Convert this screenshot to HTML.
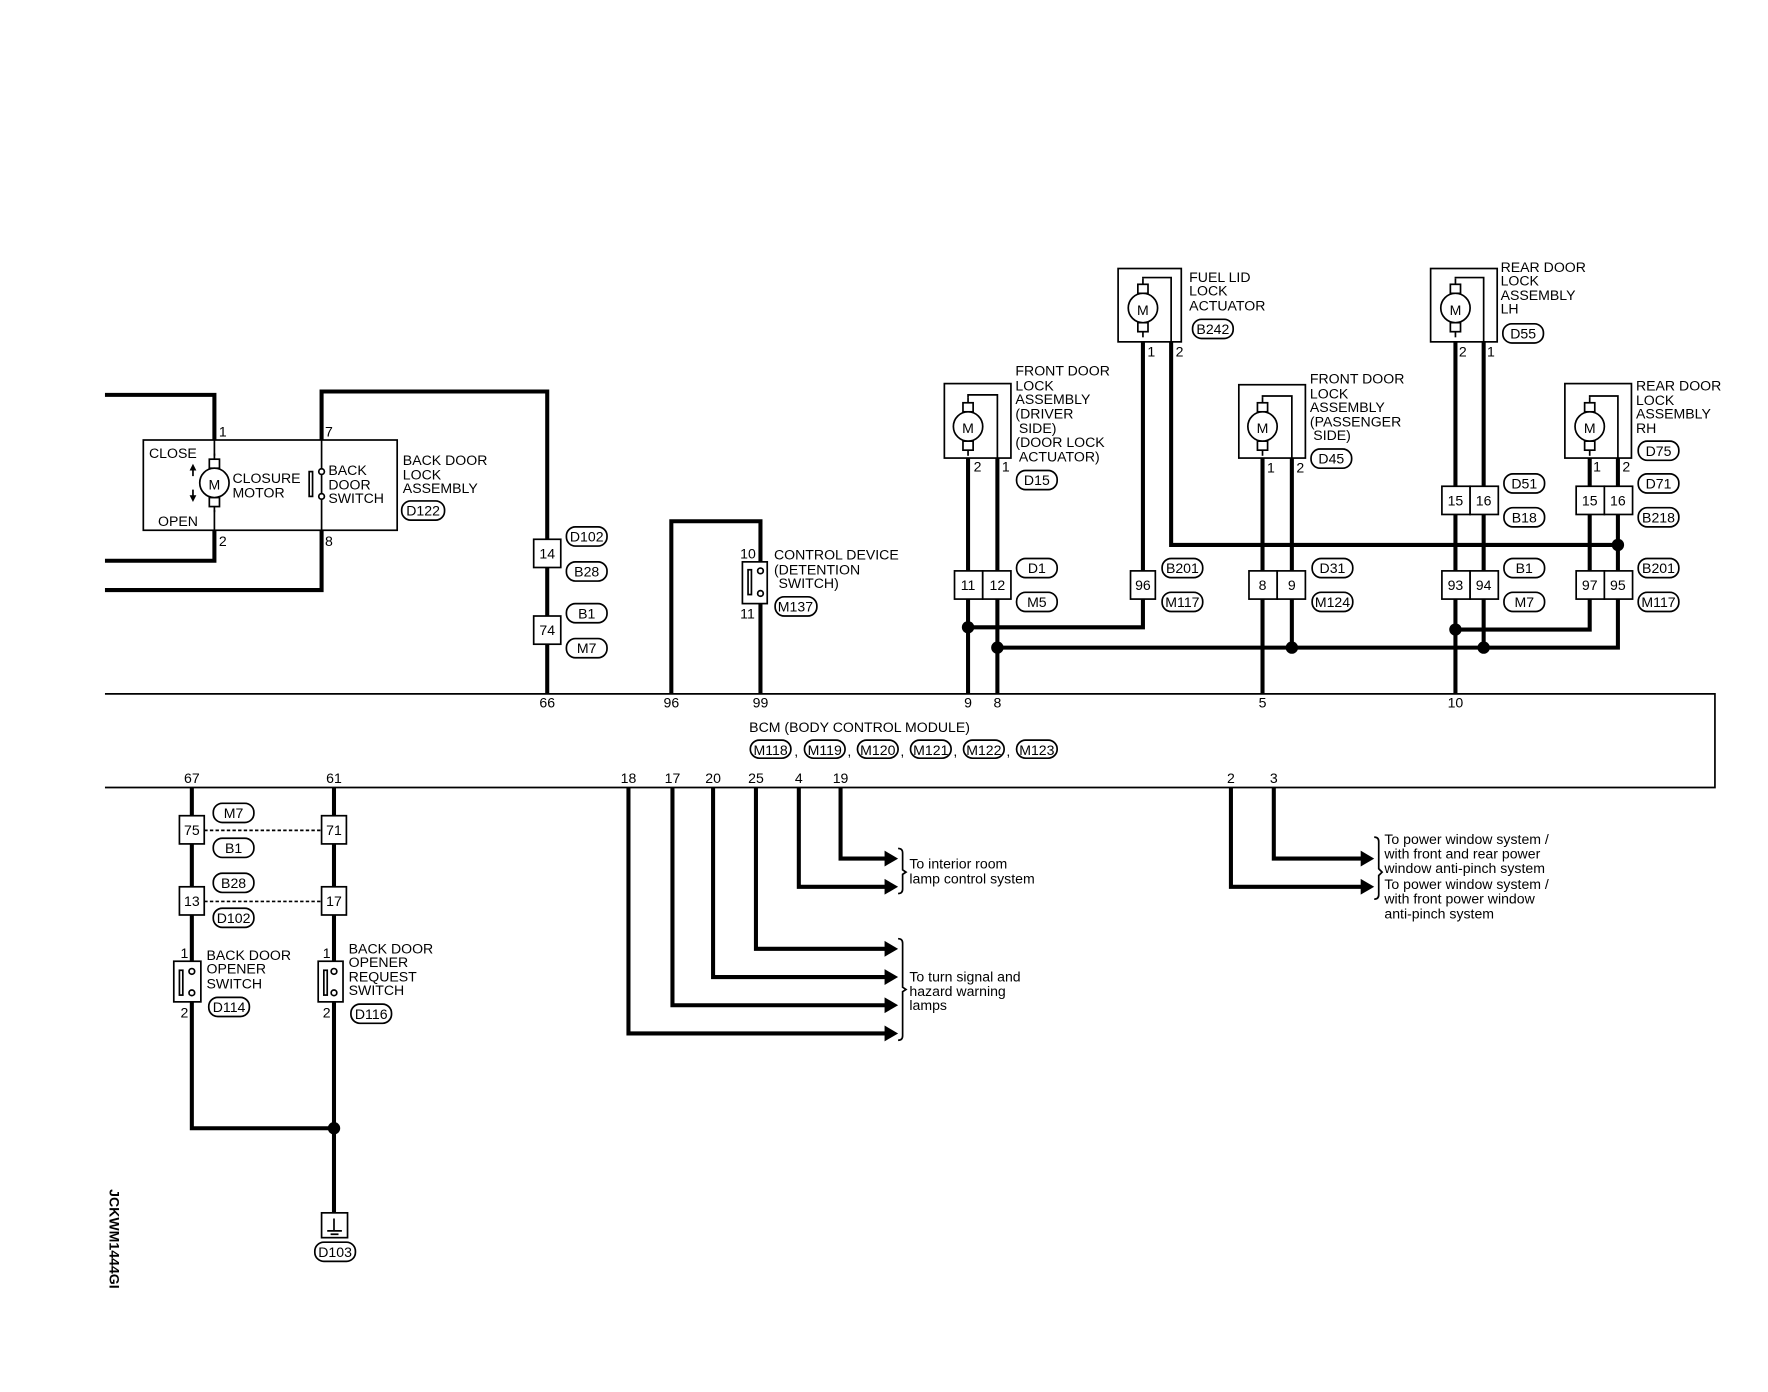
<!DOCTYPE html>
<html><head><meta charset="utf-8"><style>
html,body{margin:0;padding:0;background:#fff;}
svg{display:block;}
text{font-family:"Liberation Sans",sans-serif;font-size:12.5px;fill:#000;}
.t{stroke:#000;stroke-width:3.6;fill:none;}
.n{stroke:#000;stroke-width:1.5;fill:none;}
.b{stroke:#000;stroke-width:1.5;fill:#fff;}
</style></head><body>
<svg width="1768" height="1392" viewBox="0 0 1567 1233.8" xmlns="http://www.w3.org/2000/svg">
<defs>
<g id="mot"><line x1="0" y1="-26" x2="0" y2="26" class="n"/><rect x="-4.5" y="-21" width="9" height="8" class="b"/><rect x="-4.5" y="13" width="9" height="8" class="b"/><circle r="13" class="b" stroke-width="1.8"/><text x="0" y="6" text-anchor="middle" font-size="16">M</text></g>
</defs>
<!-- BCM -->
<path d="M93 615H1520V698H93" class="n"/>
<text x="664" y="649">BCM (BODY CONTROL MODULE)</text>
<g class="b">
<rect x="665" y="656" width="36" height="16" rx="8"/><rect x="713" y="656" width="36" height="16" rx="8"/><rect x="760" y="656" width="36" height="16" rx="8"/><rect x="807" y="656" width="36" height="16" rx="8"/><rect x="854" y="656" width="36" height="16" rx="8"/><rect x="901" y="656" width="36" height="16" rx="8"/></g>
<g text-anchor="middle"><text x="683" y="669">M118</text><text x="731" y="669">M119</text><text x="778" y="669">M120</text><text x="825" y="669">M121</text><text x="872" y="669">M122</text><text x="919" y="669">M123</text></g>
<text x="704" y="670">,</text><text x="751" y="670">,</text><text x="798" y="670">,</text><text x="845" y="670">,</text><text x="892" y="670">,</text>
<g text-anchor="middle"><text x="485" y="627">66</text><text x="595" y="627">96</text><text x="674" y="627">99</text><text x="858" y="627">9</text><text x="884" y="627">8</text><text x="1119" y="627">5</text><text x="1290" y="627">10</text>
<text x="170" y="694">67</text><text x="296" y="694">61</text><text x="557" y="694">18</text><text x="596" y="694">17</text><text x="632" y="694">20</text><text x="670" y="694">25</text><text x="708" y="694">4</text><text x="745" y="694">19</text><text x="1091" y="694">2</text><text x="1129" y="694">3</text></g>

<!-- Back door lock assembly -->
<path d="M93 350H190V390M190 470V497H93M285 390V347H485V615M285 470V523H93" class="t"/>
<rect x="127" y="390" width="225" height="80" class="n"/>
<line x1="285" y1="390" x2="285" y2="470" class="n"/>
<use href="#mot" x="190" y="428"/>
<line x1="190" y1="390" x2="190" y2="404" class="n"/><line x1="190" y1="452" x2="190" y2="470" class="n"/>
<path d="M171 414V422M171 434V442" class="n"/><path d="M168 417L171 411L174 417ZM168 439L171 445L174 439Z"/>
<text x="132" y="406">CLOSE</text><text x="140" y="466">OPEN</text>
<text x="206" y="428">CLOSURE</text><text x="206" y="441">MOTOR</text>
<rect x="274" y="418" width="3" height="22" class="n"/><circle cx="285" cy="418" r="2.5" class="b"/><circle cx="285" cy="440" r="2.5" class="b"/>
<text x="291" y="421">BACK</text><text x="291" y="434">DOOR</text><text x="291" y="446">SWITCH</text>
<text x="194" y="387">1</text><text x="194" y="484">2</text><text x="288" y="387">7</text><text x="288" y="484">8</text>
<text x="357" y="412">BACK DOOR</text><text x="357" y="425">LOCK</text><text x="357" y="437">ASSEMBLY</text>
<rect x="356" y="444" width="38" height="17" rx="8" class="b"/><text x="375" y="457" text-anchor="middle">D122</text>
<rect x="473" y="478" width="24" height="25" class="b"/><text x="485" y="495" text-anchor="middle">14</text>
<rect x="473" y="546" width="24" height="25" class="b"/><text x="485" y="563" text-anchor="middle">74</text>
<g class="b"><rect x="502" y="467" width="36" height="17" rx="8"/><rect x="502" y="498" width="36" height="17" rx="8"/><rect x="502" y="535" width="36" height="17" rx="8"/><rect x="502" y="566" width="36" height="17" rx="8"/></g>
<g text-anchor="middle"><text x="520" y="480">D102</text><text x="520" y="511">B28</text><text x="520" y="548">B1</text><text x="520" y="579">M7</text></g>

<!-- Control device -->
<path d="M595 615V462H674V498" class="t"/>
<line x1="674" y1="535" x2="674" y2="615" class="t"/>
<rect x="658" y="498" width="22" height="37" class="n" stroke-width="2.5"/>
<rect x="663" y="505" width="3" height="22" class="n"/><circle cx="674" cy="506" r="2.5" class="b"/><circle cx="674" cy="526" r="2.5" class="b"/>
<text x="656" y="495">10</text><text x="656" y="548">11</text>
<text x="686" y="496">CONTROL DEVICE</text><text x="686" y="509">(DETENTION</text><text x="690" y="521">SWITCH)</text>
<rect x="687" y="529" width="37" height="17" rx="8" class="b"/><text x="705" y="542" text-anchor="middle">M137</text>

<!-- Wires top right -->
<path d="M858 406V615M884 406V615M1013 303V556H858M1038 303V483H1434M1119 406V615M1145 406V574M1290 303V615M1315 303V574M1409 406V558H1290M1434 406V574H884" class="t"/>
<g><circle cx="858" cy="556" r="5.5"/><circle cx="884" cy="574" r="5.5"/><circle cx="1145" cy="574" r="5.5"/><circle cx="1290" cy="558" r="5.5"/><circle cx="1315" cy="574" r="5.5"/><circle cx="1434" cy="483" r="5.5"/><circle cx="296" cy="1000" r="5.5"/></g>

<!-- Component boxes -->
<g>
<rect x="837" y="340" width="59" height="66" class="b"/><use href="#mot" x="858" y="378"/><path d="M858 352V350H884V406" class="n"/>
<rect x="991" y="238" width="56" height="65" class="b"/><use href="#mot" x="1013" y="273"/><path d="M1013 247V246H1038V303" class="n"/>
<rect x="1098" y="341" width="59" height="65" class="b"/><use href="#mot" x="1119" y="378"/><path d="M1119 352V351H1145V406" class="n"/>
<rect x="1268" y="238" width="59" height="65" class="b"/><use href="#mot" x="1290" y="273"/><path d="M1290 247V246H1315V303" class="n"/>
<rect x="1387" y="340" width="59" height="66" class="b"/><use href="#mot" x="1409" y="378"/><path d="M1409 352V351H1434V406" class="n"/>
</g>
<text x="863" y="418">2</text><text x="888" y="418">1</text>
<text x="1017" y="316">1</text><text x="1042" y="316">2</text>
<text x="1123" y="419">1</text><text x="1149" y="419">2</text>
<text x="1293" y="316">2</text><text x="1318" y="316">1</text>
<text x="1412" y="418">1</text><text x="1438" y="418">2</text>
<g font-size="12.5">
<text x="900" y="333">FRONT DOOR</text><text x="900" y="346">LOCK</text><text x="900" y="358">ASSEMBLY</text><text x="900" y="371">(DRIVER</text><text x="903" y="384">SIDE)</text><text x="900" y="396">(DOOR LOCK</text><text x="903" y="409">ACTUATOR)</text>
<text x="1054" y="250">FUEL LID</text><text x="1054" y="262">LOCK</text><text x="1054" y="275">ACTUATOR</text>
<text x="1161" y="340">FRONT DOOR</text><text x="1161" y="353">LOCK</text><text x="1161" y="365">ASSEMBLY</text><text x="1161" y="378">(PASSENGER</text><text x="1164" y="390">SIDE)</text>
<text x="1330" y="241">REAR DOOR</text><text x="1330" y="253">LOCK</text><text x="1330" y="266">ASSEMBLY</text><text x="1330" y="278">LH</text>
<text x="1450" y="346">REAR DOOR</text><text x="1450" y="359">LOCK</text><text x="1450" y="371">ASSEMBLY</text><text x="1450" y="384">RH</text>
</g>
<!-- connectors -->
<g class="b">
<rect x="846" y="506" width="25" height="25"/><rect x="871" y="506" width="25" height="25"/>
<rect x="1002" y="506" width="22" height="25"/>
<rect x="1107" y="506" width="25" height="25"/><rect x="1132" y="506" width="25" height="25"/>
<rect x="1278" y="431" width="25" height="25"/><rect x="1303" y="431" width="25" height="25"/>
<rect x="1278" y="506" width="25" height="25"/><rect x="1303" y="506" width="25" height="25"/>
<rect x="1397" y="431" width="25" height="25"/><rect x="1422" y="431" width="25" height="25"/>
<rect x="1397" y="506" width="25" height="25"/><rect x="1422" y="506" width="25" height="25"/>
</g>
<g text-anchor="middle" font-size="12">
<text x="858" y="523">11</text><text x="884" y="523">12</text><text x="1013" y="523">96</text>
<text x="1119" y="523">8</text><text x="1145" y="523">9</text>
<text x="1290" y="448">15</text><text x="1315" y="448">16</text><text x="1290" y="523">93</text><text x="1315" y="523">94</text>
<text x="1409" y="448">15</text><text x="1434" y="448">16</text><text x="1409" y="523">97</text><text x="1434" y="523">95</text>
</g>
<!-- ovals -->
<g class="b">
<rect x="901" y="417" width="36" height="17" rx="8"/><rect x="901" y="495" width="36" height="17" rx="8"/><rect x="901" y="525" width="36" height="17" rx="8"/>
<rect x="1057" y="283" width="36" height="17" rx="8"/><rect x="1030" y="495" width="36" height="17" rx="8"/><rect x="1030" y="525" width="36" height="17" rx="8"/>
<rect x="1162" y="398" width="36" height="17" rx="8"/><rect x="1163" y="495" width="36" height="17" rx="8"/><rect x="1163" y="525" width="36" height="17" rx="8"/>
<rect x="1332" y="287" width="36" height="17" rx="8"/><rect x="1333" y="420" width="36" height="17" rx="8"/><rect x="1333" y="450" width="36" height="17" rx="8"/><rect x="1333" y="495" width="36" height="17" rx="8"/><rect x="1333" y="525" width="36" height="17" rx="8"/>
<rect x="1452" y="391" width="36" height="17" rx="8"/><rect x="1452" y="420" width="36" height="17" rx="8"/><rect x="1452" y="450" width="36" height="17" rx="8"/><rect x="1452" y="495" width="36" height="17" rx="8"/><rect x="1452" y="525" width="36" height="17" rx="8"/>
</g>
<g text-anchor="middle">
<text x="919" y="430">D15</text><text x="919" y="508">D1</text><text x="919" y="538">M5</text>
<text x="1075" y="296">B242</text><text x="1048" y="508">B201</text><text x="1048" y="538">M117</text>
<text x="1180" y="411">D45</text><text x="1181" y="508">D31</text><text x="1181" y="538">M124</text>
<text x="1350" y="300">D55</text><text x="1351" y="433">D51</text><text x="1351" y="463">B18</text><text x="1351" y="508">B1</text><text x="1351" y="538">M7</text>
<text x="1470" y="404">D75</text><text x="1470" y="433">D71</text><text x="1470" y="463">B218</text><text x="1470" y="508">B201</text><text x="1470" y="538">M117</text>
</g>

<!-- Bottom left -->
<path d="M170 698V1000H296M296 698V1075" class="t"/>
<path d="M181 736H285M181 799H285" class="n" stroke-dasharray="3,2"/>
<g class="b"><rect x="159" y="723" width="22" height="25"/><rect x="159" y="786" width="22" height="25"/><rect x="285" y="723" width="22" height="25"/><rect x="285" y="786" width="22" height="25"/></g>
<g text-anchor="middle" font-size="12"><text x="170" y="740">75</text><text x="170" y="803">13</text><text x="296" y="740">71</text><text x="296" y="803">17</text></g>
<g class="b"><rect x="189" y="712" width="36" height="17" rx="8"/><rect x="189" y="743" width="36" height="17" rx="8"/><rect x="189" y="774" width="36" height="17" rx="8"/><rect x="189" y="805" width="36" height="17" rx="8"/></g>
<g text-anchor="middle"><text x="207" y="725">M7</text><text x="207" y="756">B1</text><text x="207" y="787">B28</text><text x="207" y="818">D102</text></g>
<rect x="154" y="852" width="24" height="36" class="b" stroke-width="2.5"/><rect x="159" y="860" width="3" height="22" class="n"/><circle cx="170" cy="861" r="2.5" class="b"/><circle cx="170" cy="880" r="2.5" class="b"/>
<rect x="282" y="852" width="22" height="36" class="b" stroke-width="2.5"/><rect x="287" y="860" width="3" height="22" class="n"/><circle cx="296" cy="861" r="2.5" class="b"/><circle cx="296" cy="880" r="2.5" class="b"/>
<text x="160" y="849">1</text><text x="160" y="902">2</text><text x="286" y="849">1</text><text x="286" y="902">2</text>
<text x="183" y="851">BACK DOOR</text><text x="183" y="863">OPENER</text><text x="183" y="876">SWITCH</text>
<text x="309" y="845">BACK DOOR</text><text x="309" y="857">OPENER</text><text x="309" y="870">REQUEST</text><text x="309" y="882">SWITCH</text>
<rect x="185" y="884" width="36" height="17" rx="8" class="b"/><text x="203" y="897" text-anchor="middle">D114</text>
<rect x="311" y="890" width="36" height="17" rx="8" class="b"/><text x="329" y="903" text-anchor="middle">D116</text>
<rect x="285" y="1075" width="23" height="22" class="b"/><path d="M290 1091H303M293 1094H300" class="n"/><line x1="296" y1="1080" x2="296" y2="1091" class="n"/>
<rect x="279" y="1101" width="36" height="17" rx="8" class="b"/><text x="297" y="1114" text-anchor="middle">D103</text>
<text transform="translate(97,1054) rotate(90)" font-weight="bold" font-size="12">JCKWM1444GI</text>

<!-- Outgoing arrows -->
<path d="M745 698V761H786M708 698V786H786M670 698V841H786M632 698V866H786M596 698V891H786M557 698V916H786M1129 698V761H1208M1091 698V786H1208" class="t"/>
<g><path d="M784 754L796 761L784 768Z"/><path d="M784 779L796 786L784 793Z"/><path d="M784 834L796 841L784 848Z"/><path d="M784 859L796 866L784 873Z"/><path d="M784 884L796 891L784 898Z"/><path d="M784 909L796 916L784 923Z"/><path d="M1206 754L1218 761L1206 768Z"/><path d="M1206 779L1218 786L1206 793Z"/></g>
<path d="M796 752Q800 752 800 756V771L803 773L800 775V788Q800 792 796 792" class="n" stroke-width="1"/>
<path d="M796 832Q800 832 800 836V875L803 877L800 879V918Q800 922 796 922" class="n" stroke-width="1"/>
<path d="M1218 742Q1222 742 1222 746V770L1225 773L1222 776V793Q1222 797 1218 797" class="n" stroke-width="1"/>
<g font-size="12"><text x="806" y="770">To interior room</text><text x="806" y="783">lamp control system</text>
<text x="806" y="870">To turn signal and</text><text x="806" y="883">hazard warning</text><text x="806" y="895">lamps</text>
<text x="1227" y="748">To power window system /</text><text x="1227" y="761">with front and rear power</text><text x="1227" y="774">window anti-pinch system</text>
<text x="1227" y="788">To power window system /</text><text x="1227" y="801">with front power window</text><text x="1227" y="814">anti-pinch system</text></g>
</svg>
</body></html>
